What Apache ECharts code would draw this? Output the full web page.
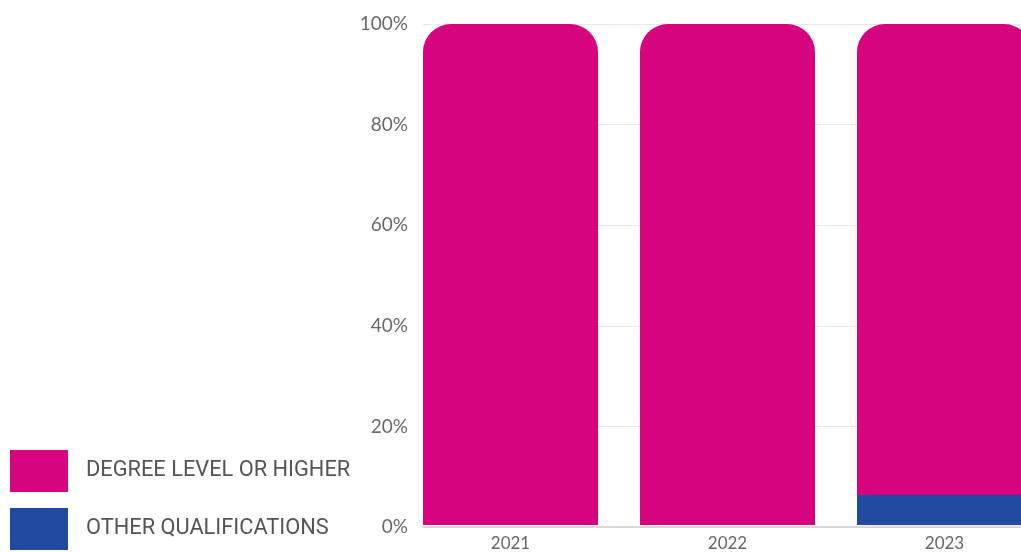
<!DOCTYPE html>
<html>
<head>
<meta charset="utf-8">
<style>
  html, body { margin: 0; padding: 0; overflow: hidden; background: #ffffff; }
  #chart { width: 1100px; height: 552px; }
</style>
<script src="https://cdn.jsdelivr.net/npm/echarts@6/dist/echarts.min.js"></script>
</head>
<body>
<div id="chart"></div>
<script>
// Share of staff by highest qualification, per year (%)
const years = ['2021', '2022', '2023'];
const degreeOrHigher = [100, 100, 94];
const otherQualifications = [0, 0, 6];
const yTicks = [0, 20, 40, 60, 80, 100];

const MAGENTA = '#D6047F';
const BLUE = '#214B9F';
const axisFont = 'Lato, "Open Sans", sans-serif';

const chart = echarts.init(document.getElementById('chart'), null, { renderer: 'canvas' });

chart.setOption({
  animation: false,
  backgroundColor: '#ffffff',
  legend: {
    orient: 'vertical',
    left: 10,
    top: 450,
    padding: 0,
    itemWidth: 58,
    itemHeight: 42,
    itemGap: 16,
    icon: 'rect',
    selectedMode: false,
    data: ['DEGREE LEVEL OR HIGHER', 'OTHER QUALIFICATIONS'],
    textStyle: {
      fontFamily: 'Roboto, sans-serif',
      fontSize: 21.8,
      color: '#555559',
      padding: [3, 0, 0, 13]
    }
  },
  grid: [
    // axis, gridlines and baseline
    { left: 423, top: 24, width: 630, bottom: 25 },
    // bars: bands of 217px, bar flush with the band's left edge
    { left: 402, top: 24, width: 651, bottom: 25 }
  ],
  xAxis: [
    {
      gridIndex: 0,
      type: 'category',
      data: years,
      axisLine: { show: true, lineStyle: { color: '#cfcfcf', width: 1.5 } },
      axisTick: { show: false },
      axisLabel: { show: false }
    },
    {
      gridIndex: 1,
      type: 'category',
      data: years,
      axisLine: { show: false },
      axisTick: { show: false },
      axisLabel: {
        margin: 10,
        fontFamily: axisFont,
        fontSize: 17,
        color: '#666666'
      }
    }
  ],
  yAxis: [
    {
      gridIndex: 0,
      type: 'value',
      min: yTicks[0],
      max: yTicks[yTicks.length - 1],
      interval: 20,
      axisLine: { show: false },
      axisTick: { show: false },
      splitLine: { show: true, lineStyle: { color: '#e8e8e8', width: 1 } },
      axisLabel: {
        margin: 15,
        fontFamily: axisFont,
        fontSize: 19,
        color: '#6a6a6a',
        formatter: v => v + '%'
      }
    },
    {
      gridIndex: 1,
      type: 'value',
      min: 0,
      max: 100,
      interval: 20,
      show: false,
      splitLine: { show: false }
    }
  ],
  series: [
    {
      name: 'OTHER QUALIFICATIONS',
      type: 'bar',
      stack: 'total',
      xAxisIndex: 1,
      yAxisIndex: 1,
      barWidth: 175,
      data: otherQualifications,
      itemStyle: { color: BLUE }
    },
    {
      name: 'DEGREE LEVEL OR HIGHER',
      type: 'bar',
      stack: 'total',
      xAxisIndex: 1,
      yAxisIndex: 1,
      barWidth: 175,
      data: degreeOrHigher,
      itemStyle: { color: MAGENTA, borderRadius: [28, 28, 0, 0] }
    }
  ]
});
</script>
</body>
</html>
